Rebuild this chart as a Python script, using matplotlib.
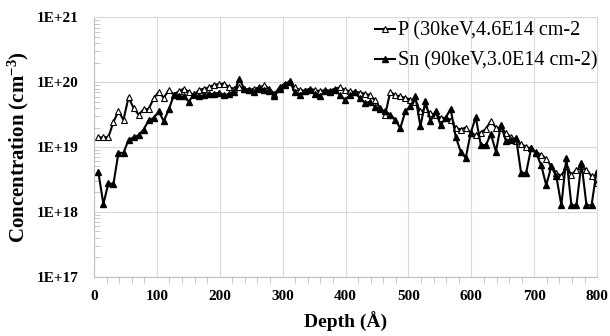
import math
import matplotlib
matplotlib.use('Agg')
import matplotlib.pyplot as plt
from matplotlib.ticker import FuncFormatter, MultipleLocator, LogLocator

plt.rcParams['font.family'] = 'Liberation Serif'
plt.rcParams['mathtext.fontset'] = 'custom'
plt.rcParams['mathtext.rm'] = 'Liberation Serif:bold'
plt.rcParams['mathtext.default'] = 'rm'

# depth (Angstrom), shared by both profiles
depth = [7, 15, 23, 31, 39, 47, 55, 63, 71, 79, 87, 95, 103, 111, 119, 127, 135, 143, 151, 159,
         167, 175, 183, 191, 199, 207, 215, 223, 231, 239, 247, 255, 263, 271, 279, 287, 295, 303, 311, 319,
         327, 335, 343, 351, 359, 367, 375, 383, 391, 399, 407, 415, 423, 431, 439, 447, 455, 463, 471, 479,
         487, 495, 503, 511, 519, 527, 535, 543, 551, 559, 567, 575, 583, 591, 599, 607, 615, 623, 631, 639,
         647, 655, 663, 671, 679, 687, 695, 703, 711, 719, 727, 735, 743, 751, 759, 767, 775, 783, 791, 799]

# log10 of concentration
p_log = [19.15, 19.15, 19.15, 19.39, 19.55, 19.42, 19.77, 19.60, 19.50, 19.58,
         19.59, 19.75, 19.85, 19.76, 19.88, 19.81, 19.86, 19.90, 19.85, 19.80,
         19.88, 19.90, 19.92, 19.96, 19.97, 19.98, 19.92, 19.90, 19.93, 19.90,
         19.88, 19.90, 19.92, 19.95, 19.90, 19.82, 19.92, 19.98, 20.00, 19.92,
         19.88, 19.87, 19.90, 19.88, 19.86, 19.88, 19.87, 19.90, 19.92, 19.88,
         19.86, 19.85, 19.84, 19.82, 19.80, 19.72, 19.60, 19.50, 19.85, 19.80,
         19.78, 19.76, 19.73, 19.70, 19.55, 19.58, 19.52, 19.50, 19.45, 19.45,
         19.42, 19.30, 19.27, 19.30, 19.22, 19.18, 19.22, 19.28, 19.40, 19.30,
         19.29, 19.22, 19.15, 19.10, 19.05, 19.00, 18.98, 18.92, 18.88, 18.82,
         18.70, 18.60, 18.55, 18.70, 18.57, 18.65, 18.70, 18.65, 18.55, 18.45]

sn_log = [18.61, 18.12, 18.44, 18.43, 18.91, 18.91, 19.11, 19.15, 19.18, 19.27,
          19.41, 19.45, 19.55, 19.40, 19.58, 19.80, 19.78, 19.78, 19.70, 19.82,
          19.78, 19.80, 19.82, 19.82, 19.84, 19.80, 19.82, 19.85, 20.05, 19.90,
          19.88, 19.85, 19.90, 19.88, 19.86, 19.78, 19.90, 19.95, 20.02, 19.85,
          19.80, 19.86, 19.88, 19.82, 19.78, 19.86, 19.85, 19.88, 19.80, 19.73,
          19.80, 19.85, 19.75, 19.68, 19.70, 19.62, 19.58, 19.55, 19.50, 19.42,
          19.29, 19.55, 19.63, 19.78, 19.32, 19.71, 19.40, 19.55, 19.34, 19.45,
          19.59, 19.16, 18.93, 18.83, 19.22, 19.46, 19.03, 19.03, 19.20, 18.93,
          19.34, 19.09, 19.11, 19.14, 18.60, 18.60, 18.98, 18.90, 18.72, 18.41,
          18.70, 18.55, 18.10, 18.83, 18.10, 18.10, 18.75, 18.10, 18.10, 18.62]

p_conc = [10 ** v for v in p_log]
sn_conc = [10 ** v for v in sn_log]

fig = plt.figure(figsize=(6.1, 3.36), dpi=100)
ax = fig.add_axes([0.154, 0.177, 0.825, 0.771])

ax.plot(depth, p_conc, color='black', lw=1.5, marker='^', ms=4.5, mfc='white', mec='black', mew=0.8,
        label='P (30keV,4.6E14 cm-2')
ax.plot(depth, sn_conc, color='black', lw=1.5, marker='^', ms=4.5, mfc='black', mec='black',
        label='Sn (90keV,3.0E14 cm-2)')

ax.set_yscale('log')
ax.set_ylim(1e17, 1e21)
ax.set_xlim(0, 800)
ax.xaxis.set_major_locator(MultipleLocator(100))
ax.xaxis.set_minor_locator(MultipleLocator(20))
ax.yaxis.set_major_locator(LogLocator(base=10, numticks=10))
ax.yaxis.set_minor_locator(LogLocator(base=10, subs=range(2, 10), numticks=20))
ax.yaxis.set_major_formatter(FuncFormatter(lambda v, pos: '1E+%d' % round(math.log10(v))))
ax.yaxis.set_minor_formatter(FuncFormatter(lambda v, pos: ''))

ax.grid(True, which='major', color='#d9d9d9', lw=0.8)
ax.set_axisbelow(True)
for s in ax.spines.values():
    s.set_color('#d9d9d9')
ax.spines['left'].set_color('#bfbfbf')
ax.spines['bottom'].set_color('#bfbfbf')

ax.tick_params(which='major', length=0, labelsize=11)
ax.tick_params(axis='x', which='major', pad=10)
ax.tick_params(axis='y', which='major', pad=11)
ax.tick_params(axis='y', which='minor', length=4, direction='in', color='#bfbfbf')
ax.tick_params(axis='x', which='minor', length=4, direction='out', color='#bfbfbf')
for lab in ax.get_xticklabels() + ax.get_yticklabels():
    lab.set_fontweight('bold')

ax.set_xlabel('Depth (Å)', fontsize=14, fontweight='bold', labelpad=6)
ax.set_ylabel('Concentration (cm$^{-3}$)', fontsize=15, fontweight='bold', labelpad=4)

ax.legend(loc='upper right', frameon=False, fontsize=14.5, handlelength=1.0, handletextpad=0.15,
          borderaxespad=0.0, labelspacing=0.55, borderpad=0.0, bbox_to_anchor=(1.0, 0.985))

fig.savefig('out.png', dpi=100)
